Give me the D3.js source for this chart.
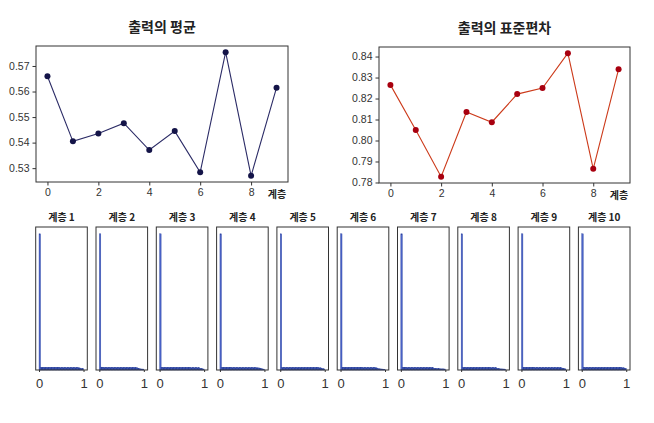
<!DOCTYPE html>
<html>
<head>
<meta charset="utf-8">
<script src="https://cdn.jsdelivr.net/npm/d3@7"></script>
<style>
  body { margin: 0; background: #fff; }
  text { font-family: "Noto Sans CJK KR", "Noto Sans", sans-serif; }
</style>
</head>
<body>
<svg id="chart" width="654" height="423"></svg>
<script>
// layer index on x axis
const layers = [0, 1, 2, 3, 4, 5, 6, 7, 8, 9];
// mean of each layer's output
const meanValues = [0.566, 0.5405, 0.5436, 0.5476, 0.5371, 0.5445, 0.5284, 0.5754, 0.527, 0.5615];
// standard deviation of each layer's output
const stdValues = [0.8265, 0.805, 0.7827, 0.8136, 0.8087, 0.8221, 0.825, 0.8416, 0.7865, 0.834];
const meanTicks = [0.53, 0.54, 0.55, 0.56, 0.57];
const stdTicks = [0.78, 0.79, 0.80, 0.81, 0.82, 0.83, 0.84];
const layerTicks = [0, 2, 4, 6, 8];

// histogram panels: 30 bins over [0, 1]
const histTitles = ["계층 1", "계층 2", "계층 3", "계층 4", "계층 5", "계층 6", "계층 7", "계층 8", "계층 9", "계층 10"];
const histCounts = [
  [5400, 110, 105, 108, 104, 102, 106, 103, 100, 104, 101, 103, 99, 102, 100, 98, 101, 99, 97, 100, 98, 96, 99, 97, 95, 96, 94, 80, 60, 50],
  [5350, 112, 108, 106, 105, 104, 103, 105, 102, 101, 103, 100, 101, 99, 100, 98, 99, 97, 98, 96, 97, 95, 96, 94, 90, 85, 60, 45, 40, 35],
  [5420, 108, 106, 104, 105, 103, 102, 101, 103, 100, 102, 99, 100, 98, 99, 97, 98, 96, 97, 95, 96, 94, 95, 93, 94, 92, 90, 70, 50, 40],
  [5380, 106, 104, 103, 104, 102, 101, 100, 102, 99, 101, 98, 99, 97, 98, 96, 97, 95, 96, 94, 95, 93, 92, 90, 88, 86, 80, 60, 45, 35],
  [5300, 104, 102, 101, 103, 100, 99, 101, 98, 100, 97, 99, 96, 98, 95, 97, 94, 96, 93, 95, 92, 94, 91, 90, 89, 88, 86, 80, 60, 45],
  [5360, 110, 108, 106, 105, 104, 106, 103, 105, 102, 104, 101, 103, 100, 102, 99, 101, 98, 100, 97, 99, 96, 98, 95, 80, 55, 45, 40, 35, 30],
  [5400, 109, 107, 105, 104, 103, 102, 104, 101, 103, 100, 102, 99, 101, 98, 100, 97, 99, 96, 98, 95, 90, 70, 55, 50, 48, 46, 45, 44, 40],
  [5410, 108, 106, 105, 103, 104, 102, 101, 103, 100, 102, 99, 101, 98, 100, 97, 99, 96, 98, 95, 97, 94, 96, 90, 70, 50, 45, 42, 40, 35],
  [5390, 107, 105, 104, 103, 102, 104, 101, 103, 100, 102, 99, 101, 98, 100, 97, 99, 96, 98, 95, 97, 94, 96, 93, 95, 92, 90, 75, 55, 45],
  [5380, 108, 106, 105, 104, 103, 102, 101, 103, 100, 102, 99, 101, 98, 100, 97, 99, 96, 98, 95, 97, 94, 96, 93, 95, 92, 94, 91, 85, 70]
];
const histTicks = [0, 1];

const svg = d3.select("#chart");
const numFont = "'Liberation Sans', Arial, sans-serif";

function linePanel(box, title, values, ticks, lineColor, dotColor) {
  const x = d3.scaleLinear().domain([-0.45, 9.45]).range([box.x0, box.x1]);
  const lo = d3.min(values), hi = d3.max(values), pad = (hi - lo) * 0.05;
  const y = d3.scaleLinear().domain([lo - pad, hi + pad]).range([box.y1, box.y0]);

  svg.append("text")
    .attr("x", (box.x0 + box.x1) / 2).attr("y", box.y0 - 14)
    .attr("text-anchor", "middle")
    .style("font-size", "14px").style("font-weight", "bold").style("fill", "#222")
    .text(title);

  const xAxis = svg.append("g")
    .attr("transform", "translate(0," + box.y1 + ")")
    .call(d3.axisBottom(x).tickValues(layerTicks).tickSize(3.5).tickSizeOuter(0));
  const yAxis = svg.append("g")
    .attr("transform", "translate(" + box.x0 + ",0)")
    .call(d3.axisLeft(y).tickValues(ticks).tickFormat(d3.format(".2f")).tickSize(3.5).tickSizeOuter(0));
  [xAxis, yAxis].forEach(a => {
    a.select(".domain").remove();
    a.selectAll("line").attr("stroke", "#333");
    a.selectAll("text").style("font-size", "10.5px").style("fill", "#333")
      .style("font-family", numFont);
  });

  svg.append("rect")
    .attr("x", box.x0).attr("y", box.y0)
    .attr("width", box.x1 - box.x0).attr("height", box.y1 - box.y0)
    .attr("fill", "none").attr("stroke", "#333").attr("stroke-width", 1);

  svg.append("path")
    .datum(values)
    .attr("fill", "none").attr("stroke", lineColor).attr("stroke-width", 1.1)
    .attr("d", d3.line().x((d, i) => x(layers[i])).y(d => y(d)));

  svg.selectAll(null).data(values).enter().append("circle")
    .attr("cx", (d, i) => x(layers[i])).attr("cy", d => y(d))
    .attr("r", 3).attr("fill", dotColor);

  svg.append("text")
    .attr("x", box.x1 - 11).attr("y", box.y1 + 16)
    .attr("text-anchor", "middle")
    .style("font-size", "10px").style("font-weight", "bold").style("fill", "#222")
    .text("계층");
}

linePanel({ x0: 36, x1: 288, y0: 46, y1: 182 }, "출력의 평균", meanValues, meanTicks, "#2b2b66", "#141448");
linePanel({ x0: 379, x1: 630, y0: 47, y1: 183 }, "출력의 표준편차", stdValues, stdTicks, "#cc3a1a", "#a8000f");

// histograms
const hTop = 227, hBottom = 370, hWidth = 51.6, hStep = 60.3, hLeft = 35.7;
const nBins = histCounts[0].length;

histCounts.forEach((counts, k) => {
  const x0 = hLeft + k * hStep;
  const x = d3.scaleLinear().domain([-0.075, 1.085]).range([x0, x0 + hWidth]);
  const y = d3.scaleLinear().domain([0, d3.max(counts) * 1.05]).range([hBottom, hTop]);
  const g = svg.append("g");

  g.selectAll("rect").data(counts).enter().append("rect")
    .attr("x", (d, i) => x(i / nBins))
    .attr("width", (d, i) => x((i + 1) / nBins) - x(i / nBins))
    .attr("y", d => y(d))
    .attr("height", d => hBottom - y(d))
    .attr("fill", (d, i) => i === 0 ? "#4a63c8" : "#2c43a0")
    .attr("stroke", "#2c43a0").attr("stroke-width", 0.4);

  g.append("rect")
    .attr("x", x0).attr("y", hTop)
    .attr("width", hWidth).attr("height", hBottom - hTop)
    .attr("fill", "none").attr("stroke", "#333").attr("stroke-width", 1);

  const ax = g.append("g")
    .attr("transform", "translate(0," + hBottom + ")")
    .call(d3.axisBottom(x).tickValues(histTicks).tickFormat(d3.format("d")).tickSize(2).tickPadding(7).tickSizeOuter(0));
  ax.select(".domain").remove();
  ax.selectAll("line").attr("stroke", "#333");
  ax.selectAll("text").style("font-size", "13px").style("fill", "#333")
    .style("font-family", numFont);

  g.append("text")
    .attr("x", x0 + hWidth / 2).attr("y", hTop - 6)
    .attr("text-anchor", "middle")
    .style("font-size", "10px").style("font-weight", "bold").style("fill", "#222")
    .text(histTitles[k]);
});
</script>
</body>
</html>
